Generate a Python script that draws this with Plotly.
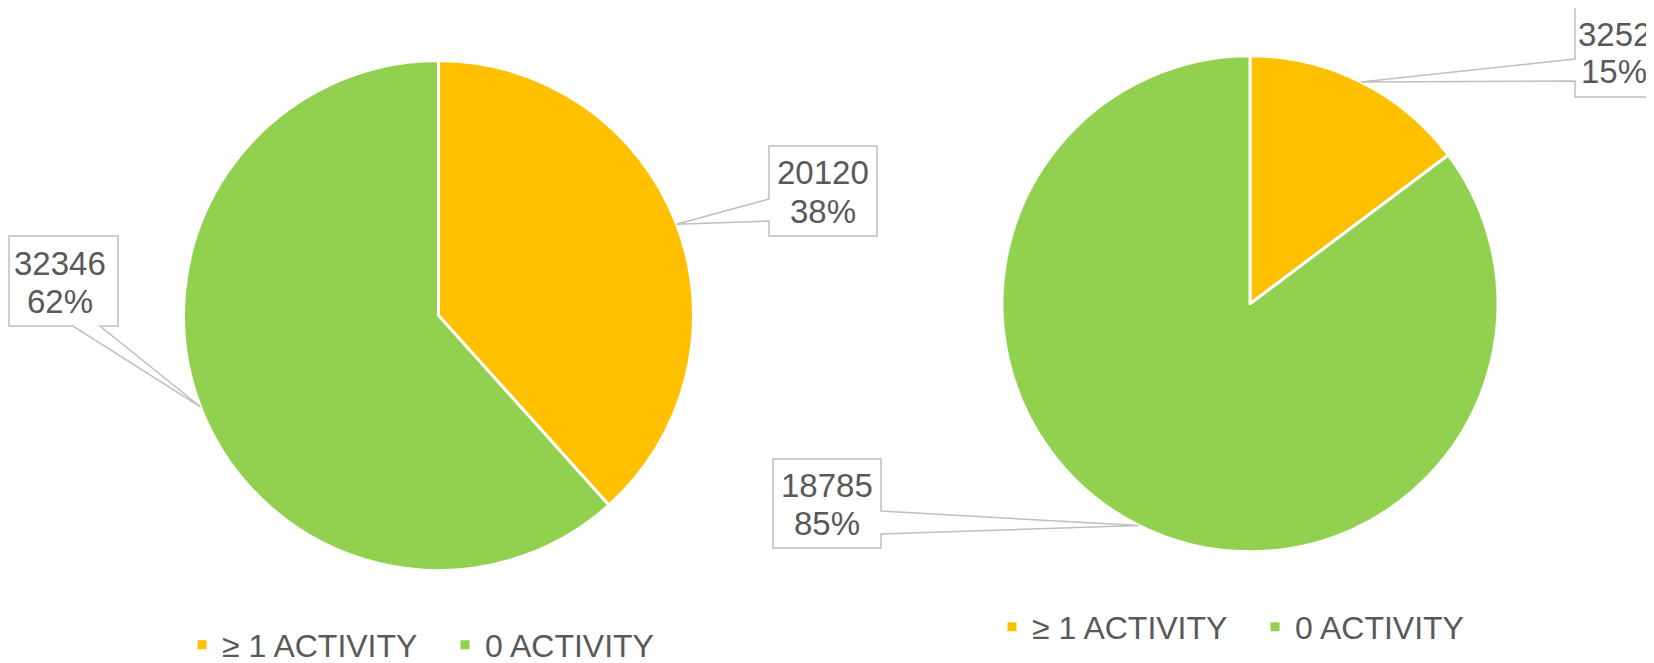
import math
import plotly.graph_objects as go

# the page body has an 8px margin, so the figure is drawn at (8, 8) in the window
OFF = 8
W, H = 1654 - OFF, 663 - OFF

labels = ["≥ 1 ACTIVITY", "0 ACTIVITY"]
left_values = [20120, 32346]
right_values = [3252, 18785]
colors = ["#FFC000", "#92D050"]
TXT = "#595959"
FONT = "Liberation Sans"

# pie geometry (window pixels)
L_C, L_R = (438.5, 315.5), 255.0
R_C, R_Rad = (1250.0, 303.8), 248.0


def px2paper(x, y):
    return (x - OFF) / W, 1 - (y - OFF) / H


def domain(c, r):
    x0, y1 = px2paper(c[0] - r, c[1] - r)
    x1, y0 = px2paper(c[0] + r, c[1] + r)
    return dict(x=[x0, x1], y=[y0, y1])


def tips(values, c, r):
    tot = sum(values)
    out, cum = [], 0
    for v in values:
        mid = (cum + v / 2) / tot * 2 * math.pi
        out.append((c[0] + r * math.sin(mid), c[1] - r * math.cos(mid)))
        cum += v
    return out


fig = go.Figure()
fig.add_trace(go.Pie(labels=labels, values=left_values, sort=False, direction="clockwise",
                     rotation=0, textinfo="none", hoverinfo="label+value+percent",
                     marker=dict(colors=colors, line=dict(color="white", width=3)),
                     domain=domain(L_C, L_R), legend="legend"))
# trailing space keeps the second legend's entries distinct from the first
fig.add_trace(go.Pie(labels=[l + " " for l in labels], values=right_values, sort=False,
                     direction="clockwise", rotation=0, textinfo="none",
                     hoverinfo="label+value+percent",
                     marker=dict(colors=colors, line=dict(color="white", width=3)),
                     domain=domain(R_C, R_Rad), legend="legend2"))


def callout(box, tip, side, base):
    x0, y0, x1, y1 = box
    b0, b1 = base
    tx, ty = tip
    if side == "bottom":
        pts = [(x0, y0), (x1, y0), (x1, y1), (b1, y1), (tx, ty), (b0, y1), (x0, y1)]
    elif side == "left":
        pts = [(x0, y0), (x1, y0), (x1, y1), (x0, y1), (x0, b1), (tx, ty), (x0, b0)]
    else:  # right
        pts = [(x0, y0), (x1, y0), (x1, b0), (tx, ty), (x1, b1), (x1, y1), (x0, y1)]
    path = "M " + " L ".join(f"{px2paper(x, y)[0]:.5f},{px2paper(x, y)[1]:.5f}" for x, y in pts) + " Z"
    fig.add_shape(type="path", path=path, xref="paper", yref="paper",
                  line=dict(color="#BFBFBF", width=1.5), fillcolor="white", layer="above")


def pct(v, vals):
    return f"{round(100 * v / sum(vals))}%"


lt = tips(left_values, L_C, L_R)
rt = tips(right_values, R_C, R_Rad)

# (values, index, box px, tip, pointer side, pointer base, text center x)
boxes = [
    (left_values, 0, (769, 146, 877, 236), lt[0], "left", (199, 221), 823),
    (left_values, 1, (9, 236, 118, 326), lt[1], "bottom", (73, 100), 60),
    (right_values, 0, (1575, 7, 1684, 97), rt[0], "left", (59, 81), 1614),
    (right_values, 1, (773, 459, 881, 548), rt[1], "right", (511, 534), 827),
]
for vals, i, box, tip, side, base, tcx in boxes:
    callout(box, tip, side, base)
    cy = (box[1] + box[3]) / 2
    for txt, dy in ((str(vals[i]), -18), (pct(vals[i], vals), 20)):
        ax, ay = px2paper(tcx, cy + dy)
        fig.add_annotation(x=ax, y=ay, xref="paper", yref="paper", showarrow=False,
                           text=txt, font=dict(family=FONT, size=33, color=TXT),
                           xanchor="center", yanchor="middle")

leg_common = dict(orientation="h", xanchor="left", yanchor="middle",
                  font=dict(family=FONT, size=32, color=TXT),
                  bgcolor="rgba(0,0,0,0)", entrywidth=218, entrywidthmode="pixels",
                  itemclick=False, itemdoubleclick=False)
lx, ly = px2paper(182, 645)
rx, ry = px2paper(992, 627)
fig.update_layout(
    width=W, height=H, margin=dict(l=0, r=0, t=0, b=0, autoexpand=False),
    paper_bgcolor="white", plot_bgcolor="white",
    legend=dict(x=lx, y=ly, **leg_common),
    legend2=dict(x=rx, y=ry, **leg_common),
)

fig.write_html("out.html")
